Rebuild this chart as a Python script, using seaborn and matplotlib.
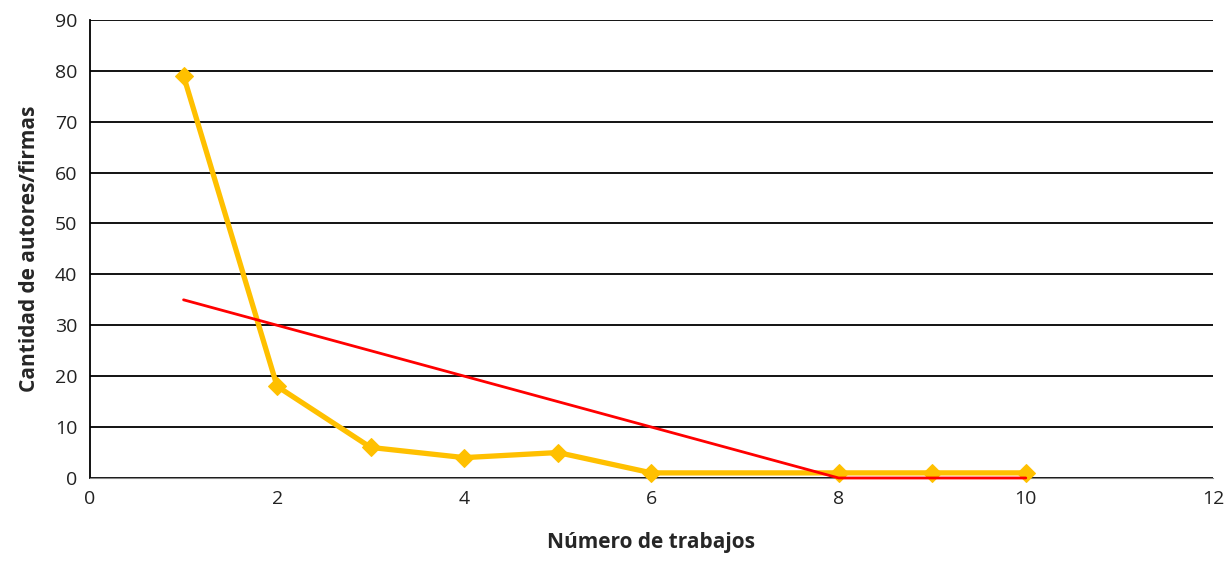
import matplotlib
matplotlib.use("Agg")
import matplotlib.pyplot as plt
import seaborn as sns
import pandas as pd

# data
trabajos = [1, 2, 3, 4, 5, 6, 8, 9, 10]
autores = [79, 18, 6, 4, 5, 1, 1, 1, 1]
tendencia = [35, 30, 25, 20, 15, 10, 0, 0, 0]

df = pd.DataFrame({"trabajos": trabajos, "autores": autores, "tendencia": tendencia})

sns.set_style("white")
plt.rcParams['font.family'] = ['Open Sans', 'DejaVu Sans']

fig = plt.figure(figsize=(12.24, 5.67), dpi=100)
ax = fig.add_axes([0.0735, 0.157, 0.9175, 0.808])

sns.lineplot(data=df, x="trabajos", y="autores", ax=ax, color="#FFC000", lw=3.8,
             marker="D", markersize=9, markeredgecolor="#FFC000", zorder=3, clip_on=False)
sns.lineplot(data=df, x="trabajos", y="tendencia", ax=ax, color="#FF0000", lw=2,
             zorder=4, clip_on=False)

ax.set_xlim(0, 12)
ax.set_ylim(0, 90)
ax.set_xticks(range(0, 13, 2))
ax.set_yticks(range(0, 91, 10))
ax.yaxis.grid(True, color="black", lw=1.3)
ax.set_axisbelow(True)
for s in ["top", "right"]:
    ax.spines[s].set_visible(False)
ax.spines["left"].set_color("black")
ax.spines["left"].set_linewidth(1.3)
ax.spines["bottom"].set_color("#888888")
ax.tick_params(axis="both", labelsize=14, colors="#222222", length=0, pad=9)
ax.set_xlabel("Número de trabajos", fontsize=15, fontweight="bold", labelpad=17)
ax.set_ylabel("Cantidad de autores/firmas", fontsize=15, fontweight="bold", labelpad=11)

fig.savefig("out.png", dpi=100)
